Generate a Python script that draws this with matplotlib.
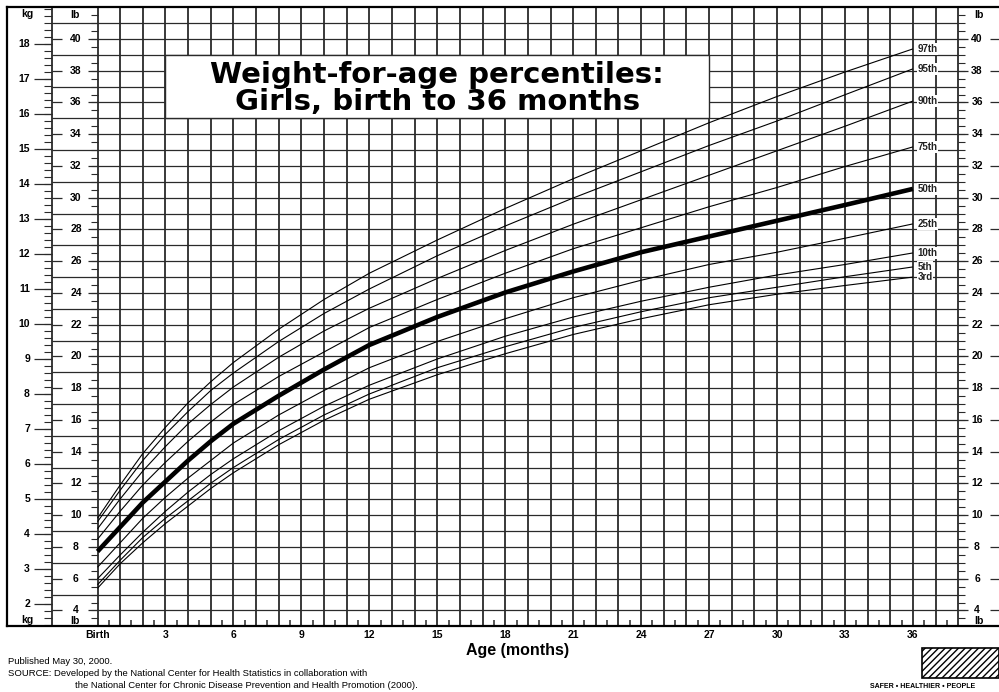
import numpy as np
import matplotlib.pyplot as plt
from matplotlib.patches import Rectangle

ages = [0, 1, 2, 3, 4, 5, 6, 8, 10, 12, 15, 18, 21, 24, 27, 30, 33, 36]

# Weight (kg) per percentile
p97 = [4.45, 5.40, 6.30, 7.05, 7.75, 8.35, 8.90, 9.85, 10.70, 11.45, 12.40, 13.30, 14.15, 14.95, 15.75, 16.50, 17.20, 17.86]
p95 = [4.35, 5.25, 6.10, 6.85, 7.50, 8.10, 8.60, 9.50, 10.30, 11.00, 11.95, 12.80, 13.60, 14.35, 15.10, 15.80, 16.55, 17.29]
p90 = [4.15, 5.00, 5.80, 6.50, 7.15, 7.70, 8.20, 9.05, 9.80, 10.45, 11.30, 12.10, 12.85, 13.55, 14.25, 14.95, 15.65, 16.37]
p75 = [3.85, 4.65, 5.40, 6.05, 6.65, 7.20, 7.70, 8.50, 9.20, 9.90, 10.70, 11.45, 12.15, 12.75, 13.35, 13.90, 14.50, 15.06]
p50 = [3.50, 4.20, 4.90, 5.50, 6.10, 6.65, 7.15, 7.95, 8.70, 9.40, 10.20, 10.90, 11.50, 12.05, 12.50, 12.95, 13.40, 13.86]
p25 = [3.05, 3.75, 4.45, 5.05, 5.60, 6.10, 6.60, 7.40, 8.10, 8.75, 9.50, 10.15, 10.75, 11.25, 11.70, 12.05, 12.45, 12.86]
p10 = [2.72, 3.40, 4.05, 4.65, 5.20, 5.70, 6.15, 6.95, 7.65, 8.25, 9.00, 9.65, 10.20, 10.65, 11.05, 11.40, 11.70, 12.03]
p5 = [2.55, 3.25, 3.90, 4.45, 4.95, 5.45, 5.90, 6.70, 7.40, 8.00, 8.75, 9.35, 9.90, 10.35, 10.75, 11.05, 11.35, 11.63]
p3 = [2.45, 3.15, 3.75, 4.30, 4.80, 5.30, 5.75, 6.55, 7.25, 7.85, 8.55, 9.15, 9.70, 10.15, 10.55, 10.85, 11.10, 11.34]

curves = [("97th", p97), ("95th", p95), ("90th", p90), ("75th", p75), ("50th", p50),
          ("25th", p25), ("10th", p10), ("5th", p5), ("3rd", p3)]

month_ticks = [0, 3, 6, 9, 12, 15, 18, 21, 24, 27, 30, 33, 36]
month_labels = ["Birth", "3", "6", "9", "12", "15", "18", "21", "24", "27", "30", "33", "36"]

LB = 2.20462
PX = 1 / 22.65          # one pixel in months
PY = 1 / 35.0           # one pixel in kg
YLO, YHI = 1.371, 19.057
XLO, XHI = -3.996, 39.80

plt.rcParams['font.family'] = ['Liberation Sans', 'DejaVu Sans']

fig = plt.figure(figsize=(9.99, 6.92), dpi=100)
ax = fig.add_axes([7 / 999, 66 / 692, 992 / 999, 619 / 692])
ax.set_xlim(XLO, XHI)
ax.set_ylim(YLO, YHI)
ax.set_yticks([])
ax.set_xticks(month_ticks, month_labels, fontsize=7.5, fontweight='bold')
ax.tick_params(axis='x', length=0, pad=3)
for s in ['left', 'top', 'bottom']:
    ax.spines[s].set_linewidth(1.6)
ax.spines['right'].set_visible(False)

gc = '#2a2a2a'
# grid: months
ax.vlines(range(0, 39), YLO, YHI, color=gc, lw=1.3, zorder=1)
ax.vlines(-2.01, YLO, YHI, color=gc, lw=1.3, zorder=1)
# grid: pounds
lbs = np.arange(4, 42)
ax.hlines(lbs / LB, 0, 38, color=gc, lw=0.9, zorder=1)
odd = np.arange(5, 42, 2)
ax.hlines(odd / LB, -2.01, 0, color=gc, lw=0.9, zorder=1)

# half month ticks at the bottom
ax.vlines(np.arange(0.5, 38, 1), YLO, YLO + 6 * PY, color=gc, lw=1.1)

# kg column ticks and labels
kg_major = np.arange(2, 19)
kg_minor = np.arange(1.4, 19.01, 0.2)
ax.hlines(kg_minor, -2.01 - 8 * PX, -2.01, color=gc, lw=0.8)
ax.hlines(kg_major, -2.01 - 18 * PX, -2.01, color=gc, lw=0.9)
for k in kg_major:
    ax.text(-2.01 - 22 * PX, k, str(k), ha='right', va='center', fontsize=7.5, fontweight='bold')
ax.text(-3.11, YHI - 7 * PY, "kg", ha='center', va='center', fontsize=7.5, fontweight='bold')
ax.text(-3.11, YLO + 6 * PY, "kg", ha='center', va='center', fontsize=7.5, fontweight='bold')

# lb columns ticks and labels
lb_half = np.arange(3.5, 42, 0.5) / LB
lb_even = np.arange(4, 41, 2)
ax.hlines(lb_half, -7 * PX, 0, color=gc, lw=0.8)
ax.hlines(lb_even / LB, -10 * PX, 0, color=gc, lw=0.9)
ax.hlines(lb_even / LB, -2.01, -2.01 + 10 * PX, color=gc, lw=0.9)
ax.hlines(lb_half, 38, 38 + 7 * PX, color=gc, lw=0.8)
ax.hlines(lb_even / LB, 38, 38 + 10 * PX, color=gc, lw=0.9)
ax.hlines(lb_even / LB, 38 + 32 * PX, 38 + 42 * PX, color=gc, lw=0.9)
for v in lb_even:
    ax.text(-0.95, v / LB, str(v), ha='center', va='center', fontsize=7.5, fontweight='bold')
    ax.text(38.83, v / LB, str(v), ha='center', va='center', fontsize=7.5, fontweight='bold')
for xm in (-0.99, 38.9):
    ax.text(xm, YHI - 8 * PY, "lb", ha='center', va='center', fontsize=7.5, fontweight='bold')
    ax.text(xm, YLO + 5 * PY, "lb", ha='center', va='center', fontsize=7.5, fontweight='bold')

# percentile curves
for name, vals in curves:
    lw = 3.3 if name == "50th" else 0.8
    ax.plot(ages, vals, color='black', lw=lw, zorder=3, solid_capstyle='butt')
    ax.text(36.2, vals[-1], name, ha='left', va='center', fontsize=7, fontweight='bold',
            color='#222', zorder=4,
            bbox=dict(facecolor='white', edgecolor='none', pad=0.6))

# title box
ax.add_patch(Rectangle((3, 35 / LB), 24, 4 / LB, facecolor='white', edgecolor=gc, lw=1.0, zorder=2))
ax.text(15, 12 + (254 - 75) * PY, "Weight-for-age percentiles:", ha='center', va='center',
        fontsize=21, fontweight='bold', family='DejaVu Sans', zorder=3)
ax.text(15, 12 + (254 - 102) * PY, "Girls, birth to 36 months", ha='center', va='center',
        fontsize=21, fontweight='bold', family='DejaVu Sans', zorder=3)

# axis title and footer
fig.text(518 / 999, 1 - 651 / 692, "Age (months)", ha='center', va='center', fontsize=11.5, fontweight='bold')
fig.text(8 / 999, 1 - 662 / 692, "Published May 30, 2000.", ha='left', va='center', fontsize=6.8)
fig.text(8 / 999, 1 - 674 / 692, "SOURCE: Developed by the National Center for Health Statistics in collaboration with",
         ha='left', va='center', fontsize=6.8)
fig.text(75 / 999, 1 - 686 / 692, "the National Center for Chronic Disease Prevention and Health Promotion (2000).",
         ha='left', va='center', fontsize=6.8)

# logo
fig.add_artist(Rectangle((922 / 999, 1 - 678 / 692), 77 / 999, 30 / 692, transform=fig.transFigure,
                         facecolor='white', edgecolor='black', hatch='/////', lw=1.2))
fig.text(870 / 999, 1 - 687 / 692, "SAFER \u2022 HEALTHIER \u2022 PEOPLE", ha='left', va='center',
         fontsize=5, fontweight='bold')

fig.savefig("out.png", dpi=100)
